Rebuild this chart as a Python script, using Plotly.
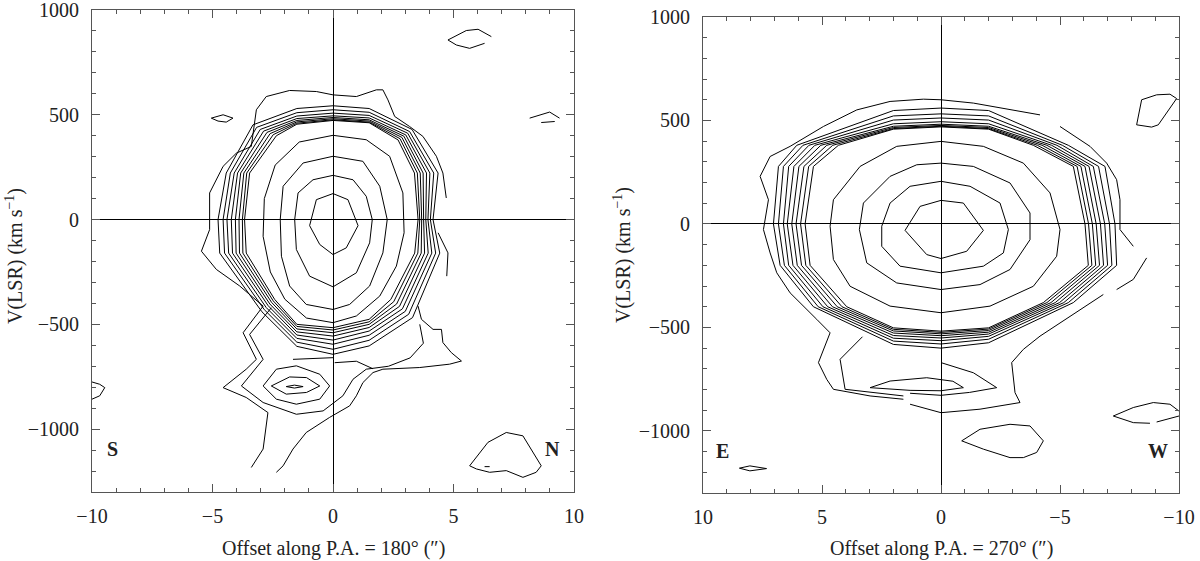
import plotly.graph_objects as go

# ================= LEFT PANEL (P.A. = 180 deg) =================
# inner closed contours: (offset ["], velocity [km/s])
L_C1 = [(0,124),(0.62,95),(1.04,-29),(0.55,-135),(0,-167),(-0.55,-119),(-0.97,-29),(-0.69,95),(0,124)]
L_C2 = [(0,211),(0.83,190),(1.38,111),(1.63,0),(1.52,-111),(0.97,-254),(0,-321),(-0.97,-270),(-1.52,-143),(-1.59,0),(-1.45,127),(-0.83,190),(0,211)]
L_C3 = [(0,302),(1.24,278),(1.94,159),(2.25,0),(2.07,-159),(1.52,-317),(0.69,-405),(0,-429),(-1.11,-405),(-1.8,-317),(-2.14,-175),(-2.19,0),(-2.07,159),(-1.24,270),(0,302)]
L_C4 = [(0,402),(1.38,381),(2.35,302),(2.9,127),(2.95,-63),(2.63,-222),(1.94,-365),(0.97,-460),(0,-492),(-1.1,-470),(-2.0,-380),(-2.6,-250),(-2.9,-80),(-2.85,100),(-2.4,260),(-1.4,370),(0,402)]

# packed edge contours P1..P8, sampled at fixed anchor positions
L_TOP0 = [473, 476, 481, 487, 495, 508, 524, 543]
L_TOPR = [462, 465, 470, 476, 485, 497, 512, 530]
L_URD_X = [2.70, 2.78, 2.86, 2.94, 3.02, 3.10, 3.18, 3.28]
L_URD_V = [380, 386, 392, 398, 404, 412, 420, 430]
L_R222 = [3.38, 3.50, 3.62, 3.74, 3.88, 4.02, 4.18, 4.36]
L_R0 = [3.53, 3.60, 3.68, 3.76, 3.85, 3.94, 4.04, 4.15]
L_RM160 = [3.39, 3.52, 3.66, 3.80, 3.95, 4.10, 4.26, 4.43]
L_LRD_X = [2.40, 2.52, 2.64, 2.76, 2.88, 3.00, 3.14, 3.30]
L_LRD_V = [-381, -392, -403, -414, -426, -438, -452, -468]
L_BOTR = [-476, -488, -500, -515, -532, -552, -576, -603]
L_BOT0 = [-516, -527, -540, -556, -575, -595, -619, -643]
L_BOTL = [-500, -510, -522, -536, -551, -567, -585, -605]
L_LLD_X = [-2.42, -2.48, -2.55, -2.62, -2.69, -2.77, -2.85, -2.95]
L_LLD_V = [-381, -388, -395, -403, -411, -420, -430, -440]
L_LM160 = [-3.60, -3.74, -3.88, -4.02, -4.17, -4.33, -4.50, -4.70]
L_L0 = [-3.67, -3.76, -3.90, -4.05, -4.22, -4.40, -4.56, -4.77]
L_L222 = [-3.46, -3.58, -3.70, -3.83, -3.96, -4.10, -4.26, -4.43]
L_ULD_X = [-2.35, -2.48, -2.61, -2.74, -2.88, -3.02, -3.17, -3.32]
L_ULD_V = [400, 405, 410, 416, 422, 430, 440, 452]
L_TOPL = [455, 460, 466, 473, 482, 494, 510, 530]

# outermost contour (None = break)
L_OUTER = [(-3.39,-1183),(-2.90,-1095),(-2.70,-921),(-3.60,-849),(-4.56,-802),(-3.60,-714),(-3.18,-667),
           (-3.73,-540),(-2.90,-413),(-3.87,-317),(-4.84,-238),(-5.46,-151),(-5.12,-48),(-5.12,127),
           (-4.56,254),(-4.01,317),(-3.39,349),(-3.18,524),(-2.77,587),(-1.80,616),(-0.69,611),(0,595),
           (0.97,587),(1.80,619),(2.07,619),(2.28,571),(2.56,492),(3.18,444),(3.73,397),(4.29,302),
           (4.56,222),(4.70,103), None,
           (4.36,-63),(4.77,-159),(4.72,-270), None,
           (3.53,-413),(3.67,-476),(4.15,-524),(4.50,-524),(4.56,-587),(4.91,-635),(5.33,-675),(4.84,-690),
           (3.60,-706),(2.07,-714),(1.66,-730),(1.24,-778),(0.97,-841),(0.69,-889),(-0.14,-944),
           (-1.11,-1016),(-1.66,-1095),(-2.07,-1175),(-2.35,-1206)]
L_WRAP = [(-2.56,-421),(-3.46,-548),(-2.90,-667),(-3.80,-794),(-2.90,-873),(-1.52,-929),(-0.41,-913),
          (0.41,-841),(0.83,-762),(1.38,-714),(2.30,-700),(3.20,-660),(3.75,-590),(3.60,-500)]
L_BRIDGE = [(-1.66,-667),(-0.5,-662),(0,-659), None, (0.07,-683),(0.97,-676),(1.66,-712)]
# secondary (blue-shifted) knot
L_B1 = [(-1.94,-797),(-1.6,-790),(-1.24,-797),(-1.6,-804),(-1.94,-797)]
L_B2 = [(-2.56,-794),(-1.8,-751),(-1.1,-754),(-0.55,-794),(-1.1,-825),(-1.94,-833),(-2.56,-794)]
L_B3 = [(-2.9,-794),(-2.35,-714),(-1.52,-698),(-0.55,-738),(-0.14,-794),(-0.55,-857),(-1.52,-881),(-2.35,-857),(-2.9,-794)]
# isolated noise contours
L_I1 = [(4.77,857),(5.53,902),(6.02,908),(6.57,873), None, (4.77,857),(5.12,833),(5.67,817),(6.29,841)]
L_I2 = [(-5.05,484),(-4.56,500),(-4.15,484),(-4.43,465),(-4.77,470),(-5.05,484)]
L_I3 = [(8.16,484),(8.99,513),(9.4,484), None, (8.64,463),(9.2,468)]
L_I4 = [(-10,-775),(-9.68,-786),(-9.47,-802),(-9.68,-841),(-10,-857)]
L_I5 = [(5.67,-1175),(6.43,-1063),(7.19,-1016),(7.88,-1032),(8.64,-1175),(8.43,-1206),(7.88,-1230),
        (7.19,-1198),(6.5,-1206),(5.95,-1190),(5.67,-1175)]
L_I6 = [(6.29,-1179),(6.5,-1179)]

# ================= RIGHT PANEL (P.A. = 270 deg) =================
R_C1 = [(0,114),(-0.94,101),(-1.78,-31),(-1.08,-132),(0,-167),(0.6,-148),(1.51,-31),(0.88,85),(0,114)]
R_C2 = [(0,206),(-1.22,182),(-2.48,101),(-2.83,-27),(-2.62,-140),(-1.78,-204),(0,-236),(1.72,-204),(2.49,-108),(2.49,-11),(2.14,101),(1.3,182),(0,206)]
R_C3 = [(0,294),(-1.36,278),(-2.9,198),(-3.74,53),(-3.74,-76),(-2.9,-220),(-1.64,-293),(0,-317),(1.86,-285),(3.12,-188),(3.43,-27),(3.26,101),(2.14,230),(1.02,286),(0,294)]
R_C4 = [(0,399),(-1.78,375),(-3.46,294),(-4.58,150),(-5.0,-27),(-4.86,-156),(-3.88,-301),(-2.06,-397),(0,-429),(2.14,-397),(3.82,-301),(4.52,-172),(4.66,-11),(4.52,117),(3.4,278),(1.86,375),(0,399)]

R_TOP0 = [469, 472, 476, 482, 494, 512, 532, 560]
R_TOPW = [458, 461, 466, 472, 484, 502, 522, 548]
R_W380 = [-3.88, -4.05, -4.25, -4.45, -4.65, -4.87, -5.10, -5.35]
R_W278 = [-5.56, -5.72, -5.88, -6.05, -6.22, -6.40, -6.62, -6.89]
R_W0 = [-6.05, -6.20, -6.36, -6.52, -6.70, -6.88, -7.08, -7.31]
R_WM200 = [-6.19, -6.34, -6.50, -6.66, -6.83, -7.00, -7.18, -7.38]
R_WM380 = [-4.30, -4.45, -4.62, -4.80, -4.98, -5.16, -5.35, -5.56]
R_BOTW = [-502, -508, -515, -523, -532, -543, -557, -574]
R_BOT0 = [-518, -524, -531, -540, -551, -564, -580, -600]
R_BOTE = [-502, -509, -517, -527, -539, -552, -566, -582]
R_EM400 = [3.96, 4.16, 4.36, 4.56, 4.76, 4.96, 5.16, 5.36]
R_EM200 = [5.50, 5.68, 5.86, 6.04, 6.22, 6.40, 6.58, 6.76]
R_E0 = [5.71, 5.90, 6.09, 6.27, 6.46, 6.62, 6.83, 7.04]
R_E278 = [5.36, 5.56, 5.76, 5.97, 6.18, 6.40, 6.62, 6.83]
R_E380 = [4.31, 4.55, 4.80, 5.05, 5.30, 5.55, 5.80, 6.06]
R_TOPE = [458, 461, 466, 472, 484, 502, 522, 548]

R_OUTER = [(1.58,-847),(2.98,-831),(4.52,-799),(4.80,-751),(5.15,-670),(4.66,-526),(5.22,-461),(5.64,-413),
           (6.34,-333),(6.90,-236),(7.18,-140),(7.46,-27),(7.25,117),(7.60,230),(7.18,326),(6.34,375),
           (4.94,471),(3.54,551),(2.14,592),(0.74,603),(0,600),(-1.36,584),(-4.16,527), None,
           (-5.0,471),(-6.26,375),(-6.96,294),(-7.38,214),(-7.52,117),(-7.52,-27),(-8.08,-108), None,
           (-8.64,-164),(-8.08,-268),(-7.38,-317), None,
           (-6.82,-341),(-5.42,-445),(-4.16,-542),(-3.46,-606),(-2.97,-670),(-3.11,-815),(-3.32,-863),
           (-1.64,-895),(0,-912),(1.30,-871)]
R_WRAP = [(3.3,-545),(4.24,-654),(4.03,-799),(2.14,-823),(1.58,-831), None,
          (1.30,-818),(0,-828),(-1.2,-814),(-2.34,-791),(-1.36,-719),(0,-670)]
R_S = [(2.98,-791),(2.14,-759),(0.6,-743),(-0.5,-760),(-0.94,-791),(0,-806),(1.3,-804),(2.5,-797),(2.98,-791)]
R_I1 = [(-0.87,-1048),(-1.64,-992),(-2.9,-968),(-3.74,-976),(-4.3,-1048),(-4.02,-1104),(-3.46,-1129),
        (-2.9,-1129),(-1.78,-1088),(-0.87,-1048)]
R_I2 = [(-7.24,-928),(-8.08,-887),(-8.92,-863),(-9.62,-871),(-10,-904), None,
        (-7.24,-928),(-8.08,-960),(-8.78,-963), None, (-9.06,-957),(-10,-928)]
R_I3 = [(-8.22,479),(-8.43,600),(-9.06,624),(-9.62,627),(-9.9,606),(-9.13,479),(-8.85,468),(-8.22,479)]
R_I4 = [(8.47,-1180),(8.03,-1169),(7.33,-1182),(8.03,-1193),(8.47,-1180)]

X_TICKS = [-10, -5, 0, 5, 10]
Y_TICKS = [-1000, -500, 0, 500, 1000]

# ----------------------------------------------------------------
def ring_left(i):
    return [(0, L_TOP0[i]), (1.5, L_TOPR[i]), (L_URD_X[i], L_URD_V[i]), (L_R222[i], 222),
            (L_R0[i], 0), (L_RM160[i], -160), (L_LRD_X[i], L_LRD_V[i]), (1.5, L_BOTR[i]),
            (0, L_BOT0[i]), (-1.5, L_BOTL[i]), (L_LLD_X[i], L_LLD_V[i]), (L_LM160[i], -160),
            (L_L0[i], 0), (L_L222[i], 222), (L_ULD_X[i], L_ULD_V[i]), (-1.5, L_TOPL[i]),
            (0, L_TOP0[i])]

def ring_right(i):
    return [(0, R_TOP0[i]), (-2, R_TOPW[i]), (R_W380[i], 380), (R_W278[i], 278), (R_W0[i], 0),
            (R_WM200[i], -200), (R_WM380[i], -380), (-2, R_BOTW[i]), (0, R_BOT0[i]),
            (2, R_BOTE[i]), (R_EM400[i], -400), (R_EM200[i], -200), (R_E0[i], 0),
            (R_E278[i], 278), (R_E380[i], 380), (2, R_TOPE[i]), (0, R_TOP0[i])]

def combine(paths):
    xs, ys = [], []
    for p in paths:
        for pt in p:
            if pt is None:
                xs.append(None); ys.append(None)
            else:
                xs.append(pt[0]); ys.append(pt[1])
        xs.append(None); ys.append(None)
    return xs, ys

left_paths = [L_C1, L_C2, L_C3, L_C4] + [ring_left(i) for i in range(8)] + \
             [L_OUTER, L_WRAP, L_BRIDGE, L_B1, L_B2, L_B3, L_I1, L_I2, L_I3, L_I4, L_I5, L_I6]
right_paths = [R_C1, R_C2, R_C3, R_C4] + [ring_right(i) for i in range(8)] + \
              [R_OUTER, R_WRAP, R_S, R_I1, R_I2, R_I3, R_I4]

fig = go.Figure()
lx, ly = combine(left_paths)
rx, ry = combine(right_paths)
fig.add_trace(go.Scatter(x=lx, y=ly, mode='lines', line=dict(color='black', width=1),
                         connectgaps=False, hoverinfo='skip', xaxis='x', yaxis='y'))
fig.add_trace(go.Scatter(x=rx, y=ry, mode='lines', line=dict(color='black', width=1),
                         connectgaps=False, hoverinfo='skip', xaxis='x2', yaxis='y2'))

FONT = "Liberation Serif"
FRAME = "#555555"
TXT = "#222222"

def fmt(t):
    return ('\u2212' + str(-t)) if t < 0 else str(t)

def xax(dom, rng, anchor):
    return dict(domain=dom, range=rng, anchor=anchor, automargin=False, showgrid=False, zeroline=True,
                zerolinecolor='black', zerolinewidth=1, showline=True, linecolor=FRAME,
                linewidth=1, mirror='ticks', ticks='inside', ticklen=8, tickcolor=FRAME,
                tickvals=X_TICKS, ticktext=[fmt(t) for t in X_TICKS], ticklabelstandoff=6,
                ticklabeloverflow='allow',
                tickfont=dict(family=FONT, size=20, color=TXT),
                minor=dict(ticks='inside', dtick=1, ticklen=4, tickcolor=FRAME, showgrid=False))

def yax(dom, anchor):
    return dict(domain=dom, range=[-1300, 1000], anchor=anchor, automargin=False, showgrid=False,
                zeroline=True, zerolinecolor='black', zerolinewidth=1, showline=True, linecolor=FRAME,
                linewidth=1, mirror='ticks', ticks='inside', ticklen=8, tickcolor=FRAME,
                tickvals=Y_TICKS, ticktext=[fmt(t) for t in Y_TICKS], ticklabelstandoff=8,
                ticklabeloverflow='allow',
                tickfont=dict(family=FONT, size=20, color=TXT),
                minor=dict(ticks='inside', dtick=100, ticklen=4, tickcolor=FRAME, showgrid=False))

W, H = 1200, 561
fig.update_layout(
    width=W, height=H, margin=dict(l=0, r=0, t=0, b=0, autoexpand=False),
    paper_bgcolor='white', plot_bgcolor='white', showlegend=False,
    xaxis=xax([92/W, 574/W], [-10, 10], 'y'),
    yaxis=yax([1-492/H, 1-10/H], 'x'),
    xaxis2=xax([703/W, 1179/W], [10, -10], 'y2'),
    yaxis2=yax([1-493/H, 1-17/H], 'x2'),
)

ann_font = dict(family=FONT, size=20, color=TXT)
lab_font = dict(family=FONT, size=20, color=TXT)
common = dict(showarrow=False, xanchor='center', yanchor='middle')
annotations = [
    dict(text="Offset along P.A. = 180\u00b0 (\u2033)", x=333/W, y=1-548/H, xref='paper', yref='paper',
         font=ann_font, **common),
    dict(text="Offset along P.A. = 270\u00b0 (\u2033)", x=941/W, y=1-548/H, xref='paper', yref='paper',
         font=ann_font, **common),
    dict(text="V(LSR) (km s<sup>\u22121</sup>)", x=15/W, y=1-256/H, xref='paper', yref='paper',
         textangle=-90, font=ann_font, **common),
    dict(text="V(LSR) (km s<sup>\u22121</sup>)", x=622/W, y=1-255/H, xref='paper', yref='paper',
         textangle=-90, font=ann_font, **common),
    dict(text="<b>S</b>", x=-9.15, y=-1095, xref='x', yref='y', font=lab_font, **common),
    dict(text="<b>N</b>", x=9.1, y=-1095, xref='x', yref='y', font=lab_font, **common),
    dict(text="<b>E</b>", x=9.16, y=-1098, xref='x2', yref='y2', font=lab_font, **common),
    dict(text="<b>W</b>", x=-9.12, y=-1098, xref='x2', yref='y2', font=lab_font, **common),
]
fig.update_layout(annotations=annotations)

fig.write_html("out.html", config={'displayModeBar': False},
               post_script="document.body.style.margin='0';document.body.style.overflow='hidden';")
